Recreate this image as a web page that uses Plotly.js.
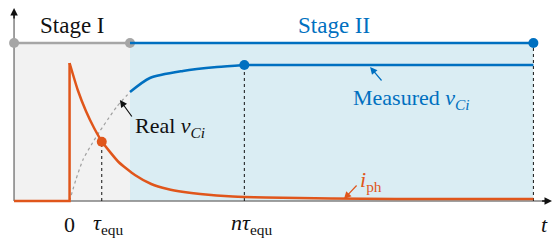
<!DOCTYPE html>
<html><head><meta charset="utf-8">
<script src="https://cdn.plot.ly/plotly-3.0.1.min.js"></script>
<style>html,body{margin:0;padding:0;background:#fff}#chart{width:553px;height:242px}
#chart .annotation-text{font-family:'Liberation Serif','Times New Roman',serif !important}</style>
</head><body><div id="chart"></div>
<script>
// time in units of tau_equ, values in arbitrary units
const tStart = -1.7, tStage = 1.85, tN = 5.35, tEnd = 14.2, tArrow = 14.77;
const topLevel = 1.58, yTop = 1.93;

const iphStepT = [-1.7, 0, 0];
const iphStepV = [0, 0, 1.38];
const iphT = [0, 0.25, 0.5, 0.75, 1.0, 1.5, 2, 2.5, 3, 3.5, 4, 5, 6, 8, 10, 14.2];
const iphV = [1.38, 1.11, 0.90, 0.73, 0.59, 0.39, 0.26, 0.17, 0.12, 0.09, 0.07, 0.045, 0.035, 0.025, 0.02, 0.02];

const realT = [0, 0.2, 0.42, 0.7, 0.93, 1.2, 1.44, 1.65, 1.85];
const realV = [0, 0.22, 0.42, 0.58, 0.70, 0.83, 0.94, 1.02, 1.09];

const measT = [1.85, 2.46, 3.47, 4.51, 5.35];
const measV = [1.09, 1.23, 1.30, 1.34, 1.36];
const measFlatT = [5.35, 14.2];
const measFlatV = [1.36, 1.36];

const tauDot = [0.985, 0.593];
const nDot = [5.35, 1.36];

const tickPos = [0, 1.18, 5.58, 14.55];
const tickText = ['0', '<i>τ</i><sub>equ</sub>', '<i>nτ</i><sub>equ</sub>', '<i>t</i>'];

const ORANGE = '#E0561B', BLUE = '#0070C0', GRAY = '#A6A6A6', AX = '#808080';
const FF = 'Liberation Serif';

const traces = [
  {x: [tStart, tStart], y: [0, yTop - 0.05], mode: 'lines', line: {color: AX, width: 1.5}},
  {x: [tStart, tArrow - 0.2], y: [0, 0], mode: 'lines', line: {color: AX, width: 1.5}},
  {x: [tauDot[0], tauDot[0]], y: [0, tauDot[1]], mode: 'lines', line: {color: '#111', width: 1, dash: 'dot'}},
  {x: [nDot[0], nDot[0]], y: [0, nDot[1]], mode: 'lines', line: {color: '#111', width: 1, dash: 'dot'}},
  {x: [tEnd, tEnd], y: [0, topLevel], mode: 'lines', line: {color: '#111', width: 1, dash: 'dot'}},
  {x: [tStart, tStage], y: [topLevel, topLevel], mode: 'lines+markers', line: {color: GRAY, width: 2.5}, marker: {color: GRAY, size: 10}},
  {x: [tStage, tEnd], y: [topLevel, topLevel], mode: 'lines', line: {color: BLUE, width: 2.5}},
  {x: [tEnd], y: [topLevel], mode: 'markers', marker: {color: BLUE, size: 10}},
  {x: realT, y: realV, mode: 'lines', line: {color: '#A0A0A0', width: 1.2, dash: 'dot', shape: 'spline', smoothing: 0.6}},
  {x: measT, y: measV, mode: 'lines', line: {color: BLUE, width: 2.5, shape: 'spline', smoothing: 0.7}},
  {x: measFlatT, y: measFlatV, mode: 'lines', line: {color: BLUE, width: 2.5}},
  {x: [nDot[0]], y: [nDot[1]], mode: 'markers', marker: {color: BLUE, size: 10}},
  {x: iphStepT, y: iphStepV, mode: 'lines', line: {color: ORANGE, width: 2.5}},
  {x: iphT, y: iphV, mode: 'lines', line: {color: ORANGE, width: 2.5, shape: 'spline', smoothing: 0.5}},
  {x: [tauDot[0]], y: [tauDot[1]], mode: 'markers', marker: {color: ORANGE, size: 10}}
];
traces.forEach(tr => { tr.type = 'scatter'; tr.showlegend = false; tr.hoverinfo = 'skip'; tr.cliponaxis = false; });

const ann = [];
tickPos.forEach((p, i) => ann.push({x: p, y: -0.23, text: tickText[i], showarrow: false,
  font: {family: FF, size: 22, color: '#111'}, xanchor: 'center', yanchor: 'middle'}));
ann.push({x: 0.09, y: 1.76, text: 'Stage I', showarrow: false, font: {family: FF, size: 23, color: '#111'}});
ann.push({x: 8.08, y: 1.76, text: 'Stage II', showarrow: false, font: {family: FF, size: 23, color: BLUE}});
ann.push({x: 10.47, y: 1.02, text: 'Measured <i>v</i><sub><i>Ci</i></sub>', showarrow: false, font: {family: FF, size: 22, color: BLUE}});
ann.push({x: 3.06, y: 0.74, text: 'Real <i>v</i><sub><i>Ci</i></sub>', showarrow: false, font: {family: FF, size: 22, color: '#111'}});
ann.push({x: 9.24, y: 0.20, text: '<i>i</i><sub>ph</sub>', showarrow: false, font: {family: FF, size: 22, color: ORANGE}});
ann.push({x: 9.20, y: 1.34, ax: 9.59, ay: 1.19, axref: 'x', ayref: 'y', text: '', showarrow: true, arrowhead: 2, arrowsize: 1.2, arrowwidth: 1.2, arrowcolor: BLUE});
ann.push({x: 1.54, y: 1.01, ax: 1.94, ay: 0.83, axref: 'x', ayref: 'y', text: '', showarrow: true, arrowhead: 2, arrowsize: 1.2, arrowwidth: 1.2, arrowcolor: '#111'});
ann.push({x: 8.40, y: 0.02, ax: 8.83, ay: 0.17, axref: 'x', ayref: 'y', text: '', showarrow: true, arrowhead: 2, arrowsize: 1.2, arrowwidth: 1.2, arrowcolor: ORANGE});
ann.push({x: tStart, y: yTop, ax: tStart, ay: yTop - 0.12, axref: 'x', ayref: 'y', text: '', showarrow: true, arrowhead: 2, arrowsize: 1, arrowwidth: 1.5, arrowcolor: '#111'});
ann.push({x: tArrow, y: 0, ax: tArrow - 0.35, ay: 0, axref: 'x', ayref: 'y', text: '', showarrow: true, arrowhead: 2, arrowsize: 1, arrowwidth: 1.5, arrowcolor: '#111'});

const shapes = [
  {type: 'rect', xref: 'x', yref: 'y', x0: tStart, x1: tStage, y0: 0, y1: topLevel, fillcolor: '#F2F2F2', line: {width: 0}, layer: 'below'},
  {type: 'rect', xref: 'x', yref: 'y', x0: tStage, x1: tEnd, y0: 0, y1: topLevel, fillcolor: '#DAEDF3', line: {width: 0}, layer: 'below'}
];

const layout = {
  width: 553, height: 242,
  margin: {l: 0, r: 0, t: 0, b: 0},
  paper_bgcolor: '#fff', plot_bgcolor: '#fff',
  font: {family: FF},
  xaxis: {range: [-2.13, 14.8], visible: false, fixedrange: true},
  yaxis: {range: [-0.41, 2.01], visible: false, fixedrange: true},
  annotations: ann, shapes: shapes, showlegend: false
};
Plotly.newPlot('chart', traces, layout, {staticPlot: true}).then(() => {
  Plotly.relayout('chart', {annotations: ann.map(a => Object.assign({}, a))});
});
</script></body></html>
